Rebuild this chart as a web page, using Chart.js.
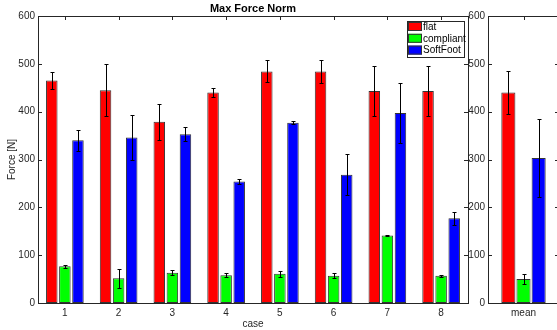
<!DOCTYPE html>
<html>
<head>
<meta charset="utf-8">
<script src="https://cdn.jsdelivr.net/npm/chart.js@4.4.1/dist/chart.umd.min.js"></script>
<style>
  html, body { margin: 0; padding: 0; background: #fff; overflow: hidden; width: 557px; height: 330px; }
  #mainChart { position: absolute; left: 0; top: 0; }
  #meanChart { position: absolute; left: 450px; top: 0; }
</style>
</head>
<body>
<canvas id="mainChart" width="475" height="330"></canvas>
<canvas id="meanChart" width="110" height="330"></canvas>
<script>
// data
const cases = ["1", "2", "3", "4", "5", "6", "7", "8"];
const flat = [465, 445, 379, 440, 484, 484, 443, 443];
const flatErr = [18, 54, 38, 10, 23, 24, 53, 53];
const compliant = [77, 52, 63, 58, 61, 57, 141, 57];
const compliantErr = [3, 20, 5, 4, 6, 5, 1, 2];
const softFoot = [340, 346, 353, 254, 377, 268, 397, 177];
const softFootErr = [22, 48, 15, 6, 3, 43, 62, 14];

const meanLabels = ["mean"];
const flatMean = [440];
const flatMeanErr = [44];
const compliantMean = [50];
const compliantMeanErr = [11];
const softFootMean = [303];
const softFootMeanErr = [82];

const yTicks = [0, 100, 200, 300, 400, 500, 600];

const FONT = '"Liberation Sans", Arial, sans-serif';
const AXIS_COLOR = "#262626";

const makeDatasets = (a, aErr, b, bErr, c, cErr) => [
  { label: "flat", data: a, errors: aErr, backgroundColor: "#ff0000" },
  { label: "compliant", data: b, errors: bErr, backgroundColor: "#00ff00" },
  { label: "SoftFoot", data: c, errors: cErr, backgroundColor: "#0000ff" },
];

// error bars, axis box and little inward ticks (matlab style)
const matlabPlugin = {
  id: "matlabPlugin",
  beforeDatasetsDraw(chart) {
    const ctx = chart.ctx;
    const { left, right, top, bottom } = chart.chartArea;
    const yScale = chart.scales.y;
    const xScale = chart.scales.x;
    ctx.save();
    ctx.strokeStyle = AXIS_COLOR;
    ctx.lineWidth = 1;
    ctx.beginPath();
    yScale.ticks.forEach((t) => {
      const y = Math.round(yScale.getPixelForValue(t.value)) + 0.5;
      ctx.moveTo(left, y);
      ctx.lineTo(left + 4, y);
      ctx.moveTo(right, y);
      ctx.lineTo(right - 4, y);
    });
    xScale.ticks.forEach((t, i) => {
      const x = Math.round(xScale.getPixelForTick(i)) + 0.5;
      ctx.moveTo(x, top);
      ctx.lineTo(x, top + 4);
      ctx.moveTo(x, bottom);
      ctx.lineTo(x, bottom - 4);
    });
    ctx.stroke();
    ctx.restore();
  },
  afterDatasetsDraw(chart) {
    const ctx = chart.ctx;
    const yScale = chart.scales.y;
    ctx.save();
    ctx.strokeStyle = "#000";
    ctx.lineWidth = 1;
    chart.data.datasets.forEach((ds, i) => {
      const meta = chart.getDatasetMeta(i);
      meta.data.forEach((bar, j) => {
        const v = ds.data[j];
        const e = ds.errors[j];
        const x = Math.round(bar.x) + 0.5;
        const yHi = Math.round(yScale.getPixelForValue(v + e)) + 0.5;
        const yLo = Math.round(yScale.getPixelForValue(v - e)) + 0.5;
        ctx.beginPath();
        ctx.moveTo(x, yHi);
        ctx.lineTo(x, yLo);
        ctx.moveTo(x - 2, yHi);
        ctx.lineTo(x + 2, yHi);
        ctx.moveTo(x - 2, yLo);
        ctx.lineTo(x + 2, yLo);
        ctx.stroke();
      });
    });
    // axis box
    const { left, right, top, bottom } = chart.chartArea;
    ctx.strokeStyle = AXIS_COLOR;
    ctx.strokeRect(Math.round(left) + 0.5, Math.round(top) + 0.5,
      Math.round(right - left), Math.round(bottom - top));
    ctx.restore();
  },
};

// title, axis labels and legend only on the main panel
const decorPlugin = {
  id: "decorPlugin",
  afterDraw(chart) {
    const ctx = chart.ctx;
    const { left, right, top, bottom } = chart.chartArea;
    const cx = (left + right) / 2;
    ctx.save();
    ctx.fillStyle = "#000";
    ctx.textAlign = "center";
    ctx.textBaseline = "middle";
    ctx.font = "bold 11px " + FONT;
    ctx.fillText("Max Force Norm", cx, 9);

    ctx.fillStyle = AXIS_COLOR;
    ctx.font = "10px " + FONT;
    ctx.fillText("case", cx, 324);
    ctx.save();
    ctx.translate(12, (top + bottom) / 2);
    ctx.rotate(-Math.PI / 2);
    ctx.fillText("Force [N]", 0, 0);
    ctx.restore();

    // legend
    const lx = 407, ly = 21, lw = 57, lh = 36;
    ctx.fillStyle = "#fff";
    ctx.fillRect(lx, ly, lw, lh);
    ctx.strokeStyle = AXIS_COLOR;
    ctx.strokeRect(lx + 0.5, ly + 0.5, lw, lh);
    ctx.textAlign = "left";
    chart.data.datasets.forEach((ds, i) => {
      const ry = ly + 1 + i * 11.8;
      ctx.fillStyle = ds.backgroundColor;
      ctx.fillRect(lx + 1, ry, 14, 9);
      ctx.strokeStyle = "#333";
      ctx.strokeRect(lx + 1.5, ry + 0.5, 13, 8);
      ctx.fillStyle = "#000";
      ctx.fillText(ds.label, lx + 16, ry + 5);
    });
    ctx.restore();
  },
};

const baseOptions = (padRight, catPct, barPct) => ({
  responsive: false,
  animation: false,
  layout: { padding: { top: 16, right: padRight, left: 0, bottom: 0 } },
  datasets: {
    bar: {
      categoryPercentage: catPct,
      barPercentage: barPct,
      borderColor: "#333",
      borderWidth: 1,
      borderSkipped: false,
    },
  },
  plugins: {
    legend: { display: false },
    tooltip: { enabled: false },
    title: { display: false },
  },
  scales: {
    x: {
      grid: { display: false, drawTicks: false },
      border: { display: false },
      ticks: { color: AXIS_COLOR, font: { family: FONT, size: 10 }, padding: 4, maxRotation: 0 },
      afterFit: (scale) => { scale.height = 27; },
    },
    y: {
      min: 0,
      max: 600,
      grid: { display: false, drawTicks: false },
      border: { display: false },
      ticks: { color: AXIS_COLOR, font: { family: FONT, size: 10 }, padding: 3 },
      afterBuildTicks: (scale) => { scale.ticks = yTicks.map((v) => ({ value: v })); },
      afterFit: (scale) => { scale.width = 38; },
    },
  },
});

new Chart(document.getElementById("mainChart"), {
  type: "bar",
  data: {
    labels: cases,
    datasets: makeDatasets(flat, flatErr, compliant, compliantErr, softFoot, softFootErr),
  },
  options: baseOptions(7, 0.73, 0.88),
  plugins: [matlabPlugin, decorPlugin],
});

new Chart(document.getElementById("meanChart"), {
  type: "bar",
  data: {
    labels: meanLabels,
    datasets: makeDatasets(flatMean, flatMeanErr, compliantMean, compliantMeanErr, softFootMean, softFootMeanErr),
  },
  options: baseOptions(1, 0.64, 0.93),
  plugins: [matlabPlugin],
});
</script>
</body>
</html>
